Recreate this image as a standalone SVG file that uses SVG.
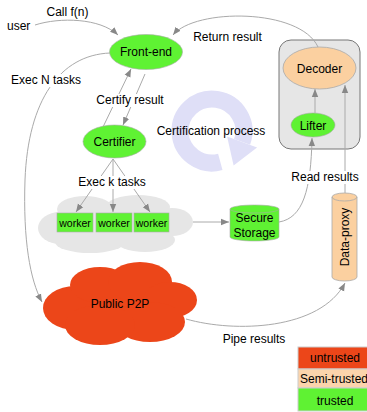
<svg xmlns="http://www.w3.org/2000/svg" width="367" height="412" viewBox="0 0 367 412">
<defs>
<marker id="ah" viewBox="0 0 10 10" refX="10" refY="5" markerWidth="8" markerHeight="8" markerUnits="userSpaceOnUse" orient="auto"><path d="M0,1 L10,5 L0,9 z" fill="#888"/></marker>
<style>
text{font-family:"Liberation Sans",Arial,sans-serif;font-size:12px;fill:#000}
.c{text-anchor:middle}
.w{font-size:10.5px}
.e{fill:none;stroke:#aaa;stroke-width:1;marker-end:url(#ah)}
.g{fill:#5ff233;stroke:#aaa;stroke-width:0.6}
.s{fill:#fbd0a0;stroke:#aaa;stroke-width:0.8}
.bg{fill:#fff}
</style>
</defs>
<rect width="367" height="412" fill="#fff"/>

<g id="cert-process">
<path d="M220.3,161.9 A32,32 0 1 1 242.1,141.9" fill="none" stroke="#dfdff7" stroke-width="17"/>
<polygon points="227.1,136.4 257.1,147.4 233.6,165.4" fill="#dfdff7"/>
</g>

<g id="worker-cloud" fill="#e6e6e6">
<ellipse cx="115" cy="224" rx="65" ry="22"/>
<ellipse cx="60" cy="228" rx="22" ry="16"/>
<ellipse cx="85" cy="209" rx="28" ry="13"/>
<ellipse cx="138" cy="207" rx="32" ry="12"/>
<ellipse cx="172" cy="222" rx="21" ry="14"/>
<ellipse cx="90" cy="242" rx="35" ry="11"/>
<ellipse cx="145" cy="240" rx="30" ry="12"/>
</g>

<g id="public-p2p">
<g fill="#ec4619">
<ellipse cx="120" cy="305" rx="60" ry="30"/>
<ellipse cx="75" cy="308" rx="32" ry="22"/>
<ellipse cx="100" cy="285" rx="30" ry="18"/>
<ellipse cx="140" cy="282" rx="32" ry="20"/>
<ellipse cx="170" cy="300" rx="27" ry="18"/>
<ellipse cx="150" cy="322" rx="35" ry="20"/>
<ellipse cx="100" cy="325" rx="35" ry="20"/>
</g>
<text class="c" x="120" y="308">Public P2P</text>
</g>

<g id="container">
<rect x="279" y="40" width="81" height="109" rx="12" fill="#e6e6e6" stroke="#777" stroke-width="1"/>
</g>

<g id="connectors">
<path class="e" d="M35,25 C60,17 100,18 118,35"/>
<path class="e" d="M318,47 C300,8 195,8 173,35"/>
<path class="e" d="M110,53 C60,55 28,100 25,180 C23,240 30,280 42,302"/>
<path class="e" d="M103,127 L131,69"/>
<path class="e" d="M145,74 L123,125"/>
<path class="e" d="M113,159 L76,212"/>
<path class="e" d="M113,159 L113,212"/>
<path class="e" d="M113,159 L150,212"/>
<path class="e" d="M193,222 L229,222"/>
<path class="e" d="M279,222 C303,218 311,190 312,138"/>
<path class="e" d="M315,113 L315,89"/>
<path class="e" d="M345,193 L345,85"/>
<path class="e" d="M186,319 C235,333 320,330 345,283"/>
</g>

<g id="labels">
<text x="7" y="30">user</text>
<text class="c" x="67.5" y="16">Call f(n)</text>
<text class="c" x="227.5" y="41">Return result</text>
<rect class="bg" x="11" y="74" width="70" height="13"/>
<text class="c" x="46" y="84">Exec N tasks</text>
<rect class="bg" x="96" y="94" width="68" height="13"/>
<text class="c" x="130" y="104">Certify result</text>
<rect class="bg" x="77" y="176" width="70" height="13"/>
<text class="c" x="112" y="186">Exec k tasks</text>
<rect class="bg" x="291" y="171" width="68" height="13"/>
<text class="c" x="325" y="181">Read results</text>
<text class="c" x="211" y="135">Certification process</text>
<text class="c" x="254" y="343">Pipe results</text>
</g>

<g id="front-end">
<ellipse class="g" cx="146" cy="52" rx="36.5" ry="17.5"/>
<text class="c" x="146" y="56">Front-end</text>
</g>

<g id="certifier">
<ellipse class="g" cx="114.5" cy="141.5" rx="31.5" ry="16.5"/>
<text class="c" x="114.5" y="146">Certifier</text>
</g>

<g id="decoder">
<ellipse class="s" cx="319.5" cy="68" rx="36.5" ry="21"/>
<text class="c" x="319.5" y="72.5">Decoder</text>
</g>

<g id="lifter">
<ellipse class="g" cx="313" cy="125" rx="22" ry="12"/>
<text class="c" x="313" y="129.5">Lifter</text>
</g>

<g id="worker1">
<rect class="g" x="57" y="213" width="36" height="19" stroke="none"/>
<text class="c w" x="75" y="226.5">worker</text>
</g>
<g id="worker2">
<rect class="g" x="96" y="213" width="36" height="19" stroke="none"/>
<text class="c w" x="114" y="226.5">worker</text>
</g>
<g id="worker3">
<rect class="g" x="134" y="213" width="35" height="19" stroke="none"/>
<text class="c w" x="151.5" y="226.5">worker</text>
</g>

<g id="secure-storage">
<path class="g" d="M230,209 A24.5,4 0 0 1 279,209 V237 A24.5,4 0 0 1 230,237 Z"/>
<path d="M230,209 A24.5,4 0 0 0 279,209" fill="none" stroke="#aaa" stroke-width="0.6"/>
<text class="c" x="254.5" y="222">Secure</text>
<text class="c" x="254.5" y="237">Storage</text>
</g>

<g id="data-proxy">
<path class="s" d="M332,197 A12.5,4 0 0 1 357,197 V277 A12.5,4 0 0 1 332,277 Z"/>
<path d="M332,197 A12.5,4 0 0 0 357,197" fill="none" stroke="#aaa" stroke-width="0.8"/>
<text class="c" transform="translate(349,237) rotate(-90)" x="0" y="0">Data-proxy</text>
</g>

<g id="legend" stroke="#ccc" stroke-width="1">
<rect x="298" y="347" width="72" height="22" fill="#ec4619"/>
<rect x="298" y="369" width="72" height="19" fill="#fbd4ac"/>
<rect x="298" y="388" width="72" height="23" fill="#5ff233"/>
</g>
<g id="legend-text">
<text class="c" x="335" y="362">untrusted</text>
<text class="c" x="334" y="383">Semi-trusted</text>
<text class="c" x="335" y="405">trusted</text>
</g>
</svg>
